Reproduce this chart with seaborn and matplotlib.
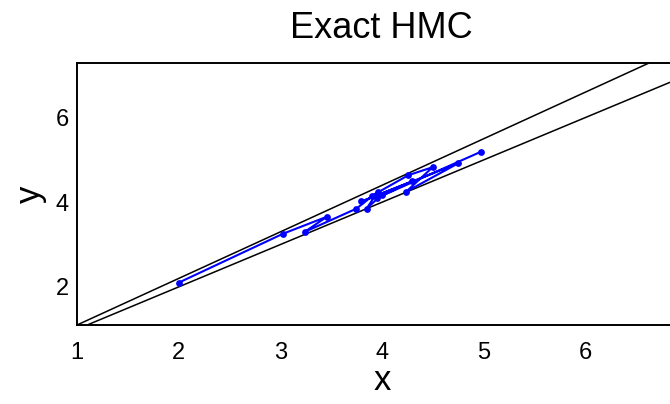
import matplotlib
matplotlib.use("Agg")
import matplotlib.pyplot as plt
import pandas as pd
import seaborn as sns

# Constraint walls: lower wall y = x, upper wall y = 1.1 x
wall_x = [1.0, 7.0]
wall_slopes = [1.0, 1.1]

# HMC samples, in chain order
sample_x = [2.00, 3.03, 3.46, 3.24, 3.75, 3.96, 3.85, 4.00, 3.90, 4.26, 4.50,
            4.24, 4.75, 3.80, 4.30, 3.95, 4.98]
sample_y = [2.10, 3.26, 3.66, 3.30, 3.85, 4.25, 3.85, 4.18, 4.15, 4.64, 4.83,
            4.25, 4.92, 4.02, 4.50, 4.10, 5.20]

xlim = (1.0, 7.0)
ylim = (1.1, 7.3)
xticks = [1, 2, 3, 4, 5, 6]
yticks = [2, 4, 6]

sns.set_theme(style="white")
plt.rcParams["font.family"] = ["Liberation Sans", "DejaVu Sans"]

fig = plt.figure(figsize=(6.70, 4.04), dpi=100)
ax = fig.add_axes([0.1149, 0.1955, 0.9099, 0.6493])

for s in wall_slopes:
    wall = pd.DataFrame({"x": wall_x, "y": [s * v for v in wall_x]})
    sns.lineplot(data=wall, x="x", y="y", ax=ax, color="black", linewidth=1.1,
                 sort=False, estimator=None)

chain = pd.DataFrame({"x": sample_x, "y": sample_y})
sns.lineplot(data=chain, x="x", y="y", ax=ax, color="#0000ff", linewidth=1.5,
             sort=False, estimator=None)
sns.scatterplot(data=chain, x="x", y="y", ax=ax, color="#0000ff", s=24,
                edgecolor="#0000ff", linewidth=0, zorder=5)

ax.set_xlim(*xlim)
ax.set_ylim(*ylim)
ax.set_xticks(xticks)
ax.set_yticks(yticks)
ax.tick_params(axis="both", direction="in", length=4, width=1, color="black",
               labelsize=17, labelcolor="black")
ax.tick_params(axis="x", pad=12)
ax.tick_params(axis="y", pad=6)
for sp in ax.spines.values():
    sp.set_color("black")
    sp.set_linewidth(1.4)
    sp.set_visible(True)

ax.set_xlabel("x", fontsize=25, color="black", labelpad=0)
ax.set_ylabel("y", fontsize=25, color="black", labelpad=6)
ax.set_title("Exact HMC", fontsize=26, color="black", pad=18)

fig.savefig("out.png", dpi=100)
